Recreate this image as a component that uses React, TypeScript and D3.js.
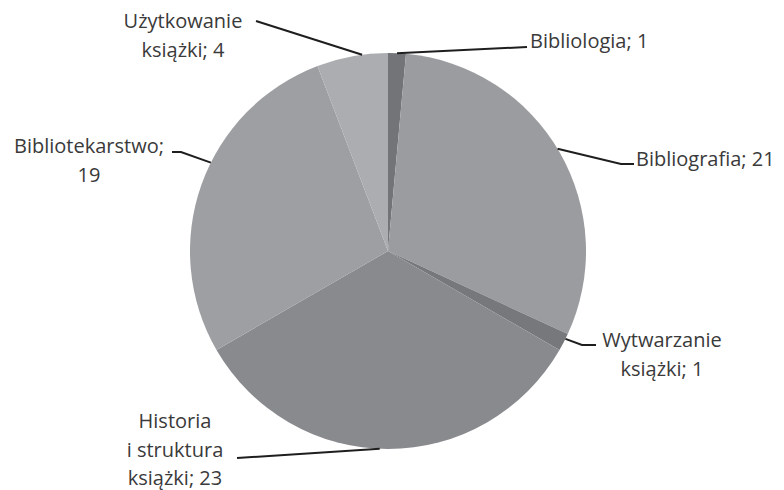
import React, { useEffect, useRef } from "react";
import * as d3 from "d3";

// Dane wykresu
const categories = [
  "Bibliologia",
  "Bibliografia",
  "Wytwarzanie książki",
  "Historia i struktura książki",
  "Bibliotekarstwo",
  "Użytkowanie książki",
];
const values = [1, 21, 1, 23, 19, 4];
const labelLines = [
  ["Bibliologia; 1"],
  ["Bibliografia; 21"],
  ["Wytwarzanie", "książki; 1"],
  ["Historia", "i struktura", "książki; 23"],
  ["Bibliotekarstwo;", "19"],
  ["Użytkowanie", "książki; 4"],
];
const sliceColors = ["#737478", "#9b9ca0", "#77787c", "#898a8e", "#9e9fa3", "#acadb1"];

// Układ etykiet (pozycje tekstu i linii odniesienia)
const labelLayout = [
  { x: 530, y: 48, anchor: "start", t: 0.5, path: [[527, 47]] },
  { x: 636, y: 166, anchor: "start", t: 0.49, path: [[621, 164], [634, 164]] },
  { x: 662, y: 347, anchor: "middle", t: 0.3, path: [[582, 345], [596, 345]] },
  { x: 175, y: 428, anchor: "middle", t: 0.52, path: [[237, 458]] },
  { x: 89, y: 153, anchor: "middle", t: 0.57, path: [[181, 152], [172, 152]] },
  { x: 183, y: 28, anchor: "middle", t: 0.64, path: [[256, 21]] },
];

const App = () => {
  const svgRef = useRef<SVGSVGElement>(null);

  useEffect(() => {
    const width = 784;
    const height = 490;
    const cx = 388;
    const cy = 251;
    const radius = 198;

    const svg = d3.select(svgRef.current).attr("width", width).attr("height", height);
    svg.selectAll("*").remove();

    svg.append("rect").attr("width", width).attr("height", height).attr("fill", "#fff");

    const data = categories.map((c, i) => ({ name: c, value: values[i], idx: i }));
    const pie = d3.pie<any>().value(d => d.value).sort(null);
    const arcs = pie(data);
    const arc = d3.arc<any>().innerRadius(0).outerRadius(radius);

    const g = svg.append("g").attr("transform", `translate(${cx},${cy})`);
    g.selectAll("path")
      .data(arcs)
      .enter()
      .append("path")
      .attr("d", arc)
      .attr("fill", d => sliceColors[d.data.idx]);

    // Linie odniesienia
    arcs.forEach((a, i) => {
      const lay = labelLayout[i];
      const ang = a.startAngle + (a.endAngle - a.startAngle) * lay.t;
      const p0: [number, number] = [cx + radius * Math.sin(ang), cy - radius * Math.cos(ang)];
      const pts: [number, number][] = [p0, ...(lay.path as [number, number][])];
      svg.append("path")
        .attr("d", d3.line()(pts))
        .attr("fill", "none")
        .attr("stroke", "#1e1e1e")
        .attr("stroke-width", 2);
    });

    // Etykiety
    labelLines.forEach((lines, i) => {
      const lay = labelLayout[i];
      lines.forEach((line, j) => {
        svg.append("text")
          .attr("x", lay.x)
          .attr("y", lay.y + j * 28.5)
          .attr("text-anchor", lay.anchor)
          .style("font-family", "'Open Sans', sans-serif")
          .style("font-size", "20px")
          .style("fill", "#3a3a3a")
          .text(line);
      });
    });
  }, []);

  return (
    <svg
      ref={svgRef}
      style={{ position: "absolute", left: 0, top: 0, display: "block" }}
    ></svg>
  );
};

export default App;
